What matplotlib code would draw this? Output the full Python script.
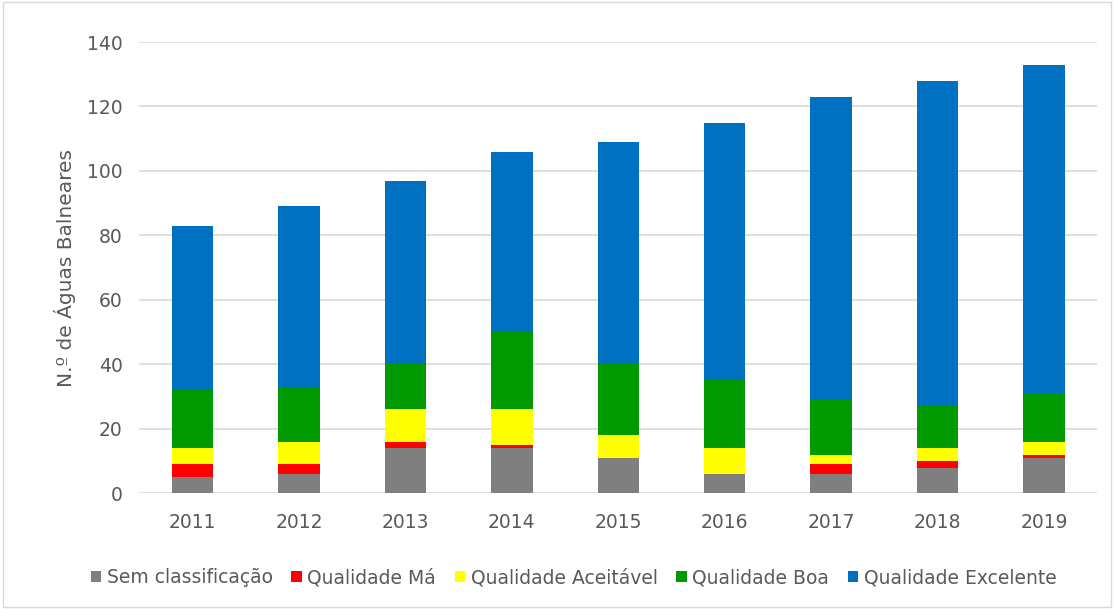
import matplotlib.pyplot as plt
import numpy as np
from matplotlib.patches import Rectangle

years = ["2011", "2012", "2013", "2014", "2015", "2016", "2017", "2018", "2019"]
sem_classificacao = [5, 6, 14, 14, 11, 6, 6, 8, 11]
qualidade_ma = [4, 3, 2, 1, 0, 0, 3, 2, 1]
qualidade_aceitavel = [5, 7, 10, 11, 7, 8, 3, 4, 4]
qualidade_boa = [18, 17, 14, 24, 22, 21, 17, 13, 15]
qualidade_excelente = [51, 56, 57, 56, 69, 80, 94, 101, 102]

series = [
    ("Sem classificação", sem_classificacao, "#7f7f7f"),
    ("Qualidade Má", qualidade_ma, "#ff0000"),
    ("Qualidade Aceitável", qualidade_aceitavel, "#ffff00"),
    ("Qualidade Boa", qualidade_boa, "#009900"),
    ("Qualidade Excelente", qualidade_excelente, "#0070c0"),
]

fig = plt.figure(figsize=(11.14, 6.09), dpi=100)
ax = fig.add_axes([0.125, 0.19, 0.86, 0.741])

x = np.arange(len(years))
bottom = np.zeros(len(years))
for name, vals, col in series:
    ax.bar(x, vals, 0.39, bottom=bottom, color=col, label=name, zorder=3)
    bottom += np.array(vals)

ax.set_xlim(-0.5, len(years) - 0.5)
ax.set_ylim(0, 140)
ax.set_yticks(range(0, 141, 20))
ax.set_xticks(x)
ax.set_xticklabels(years)
ax.grid(axis="y", color="#d9d9d9", linewidth=1.2, zorder=0)
for s in ax.spines.values():
    s.set_visible(False)
ax.tick_params(axis="y", length=0, labelsize=13.5, colors="#595959", pad=12)
ax.tick_params(axis="x", length=0, labelsize=13.5, colors="#595959", pad=14)
ax.set_ylabel("N.º de Águas Balneares", fontsize=14.5, color="#595959", labelpad=8)

fig.legend(loc="center", bbox_to_anchor=(0.515, 0.051), ncol=5, frameon=False,
           fontsize=13.5, handlelength=0.55, handleheight=0.55, handletextpad=0.3,
           columnspacing=1.0, labelcolor="#595959")

fig.patches.append(Rectangle((0.003, 0.003), 0.994, 0.994, transform=fig.transFigure,
                             fill=False, edgecolor="#d9d9d9", linewidth=1))

plt.savefig("out.png", dpi=100)
